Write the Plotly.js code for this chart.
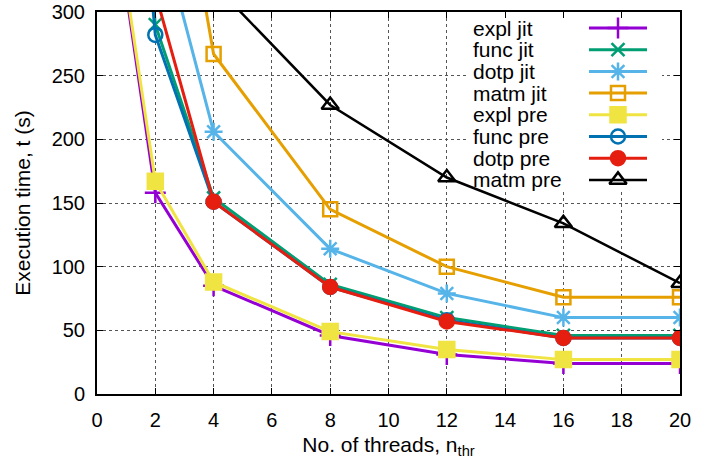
<!DOCTYPE html>
<html><head><meta charset="utf-8">
<script src="https://cdn.plot.ly/plotly-3.0.1.min.js"></script>
<style>body{margin:0;padding:0;background:#fff}#c{width:711px;height:467px}</style>
</head><body><div id="c"></div>
<script>
const threads = [1, 2, 4, 8, 12, 16, 20];
const names = ["expl jit","func jit","dotp jit","matm jit","expl pre","func pre","dotp pre","matm pre"];
const explJit = [315, 158, 85, 46, 31, 24, 24];
const funcJit = [560, 290, 154, 86, 60, 46, 46];
const dotpJit = [760, 380, 206, 114, 79, 60, 60];
const matmJit = [1000, 530, 267, 145, 100, 76, 76];
const explPre = [320, 167, 88, 49, 35, 27, 27];
const funcPre = [540, 282, 151, 84, 58, 44, 44];
const dotpPre = [620, 315, 151, 84, 57, 44, 44];
const matmPre = [1200, 600, 322, 227, 170, 134, 87];
const series = [explJit, funcJit, dotpJit, matmJit, explPre, funcPre, dotpPre, matmPre];
const colors = ["#9400d3","#009e73","#56b4e9","#e69f00","#f0e442","#0072b2","#e51e10","#000000"];
const symbols = ["cross-thin-open","x-thin-open","asterisk-open","square-open","square","circle-open","circle","triangle-up-open"];
const msizes = [15, 13, 15, 14, 15, 14, 14, 15];
const lwidths = [3, 3, 3, 3, 3, 3, 3, 2.5];

const FF = "Liberation Sans, Arial, Helvetica, sans-serif";
const traces = [];
series.forEach((ys, i) => {
  traces.push({
    x: threads, y: ys, type: "scatter", mode: "lines+markers", name: names[i],
    showlegend: false, cliponaxis: true,
    line: {color: colors[i], width: lwidths[i]},
    marker: {symbol: symbols[i], size: msizes[i], color: colors[i], line: {color: colors[i], width: 2.5}}
  });
});

// gnuplot-style key: text on the left, sample on the right (positions in plot pixels)
const L = 97, R = 680, T = 12, B = 394;
const px2x = p => (p - L) / (R - L) * 20;
const py2y = p => (B - p) / (B - T) * 300;
const keyTop = 28, keyStep = 21.7, keyTextX = 471, keyL0 = 589, keyL1 = 647, keyM = 618;
const shapes = [{type: "rect", xref: "x", yref: "y", x0: px2x(468), x1: px2x(662), y0: py2y(15), y1: py2y(192),
  fillcolor: "#fff", line: {width: 0}, layer: "between"}];
const annotations = [];
names.forEach((n, i) => {
  const yy = keyTop + i * keyStep;
  annotations.push({xref: "x", yref: "y", x: px2x(keyTextX), y: py2y(yy), text: n, showarrow: false,
    xanchor: "left", yanchor: "middle", font: {family: FF, size: 21, color: "#000"}});
  shapes.push({type: "line", xref: "x", yref: "y", x0: px2x(keyL0), x1: px2x(keyL1), y0: py2y(yy), y1: py2y(yy),
    line: {color: colors[i], width: lwidths[i]}, layer: "above"});
  traces.push({x: [px2x(keyM)], y: [py2y(yy)], type: "scatter", mode: "markers",
    showlegend: false, hoverinfo: "skip", cliponaxis: false,
    marker: {symbol: symbols[i], size: msizes[i], color: colors[i], line: {color: colors[i], width: 2.5}}});
});

const font = {family: FF, size: 20, color: "#000"};
const tfont = {family: FF, size: 21, color: "#000"};
const layout = {
  width: 711, height: 467,
  margin: {l: L, r: 711 - R, t: T, b: 467 - B},
  paper_bgcolor: "#fff", plot_bgcolor: "#fff",
  font: font,
  showlegend: false,
  xaxis: {range: [0, 20], dtick: 2, tick0: 0, showgrid: true, gridcolor: "#555", griddash: "dot", gridwidth: 1,
    zeroline: false, showline: true, linecolor: "#000", linewidth: 2, mirror: "ticks",
    ticks: "inside", ticklen: 6, tickcolor: "#000", tickfont: font, ticklabelstandoff: 7,
    title: {text: "No. of threads, n<sub>thr</sub>", font: tfont, standoff: 7}},
  yaxis: {range: [0, 300], dtick: 50, tick0: 0, showgrid: true, gridcolor: "#555", griddash: "dot", gridwidth: 1,
    zeroline: false, showline: true, linecolor: "#000", linewidth: 2, mirror: "ticks",
    ticks: "inside", ticklen: 6, tickcolor: "#000", tickfont: font, ticklabelstandoff: 6,
    title: {text: "Execution time, t (s)", font: tfont, standoff: 15}},
  shapes: shapes,
  annotations: annotations
};
Plotly.newPlot("c", traces, layout, {displayModeBar: false, staticPlot: true});
</script></body></html>
